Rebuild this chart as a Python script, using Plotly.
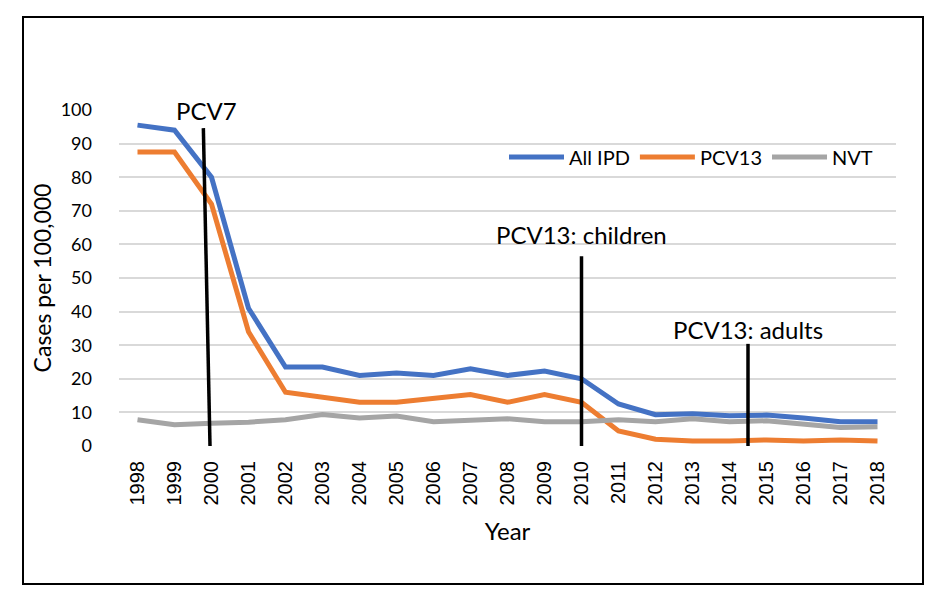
import plotly.graph_objects as go

years = list(range(1998, 2019))
all_ipd = [95.5, 94, 80, 41, 23.5, 23.5, 21, 21.7, 21, 23, 21, 22.3, 20, 12.5, 9.3, 9.6, 9, 9.2, 8.3, 7.2, 7.2]
pcv13 = [87.5, 87.5, 72, 34, 16, 14.5, 13, 13, 14, 15.3, 13, 15.3, 13, 4.5, 2, 1.5, 1.5, 1.8, 1.5, 1.8, 1.5]
nvt = [7.8, 6.3, 6.8, 7.1, 7.8, 9.4, 8.3, 8.9, 7.2, 7.5, 8.1, 7.2, 7.2, 7.8, 7.2, 8.1, 7.2, 7.5, 6.6, 5.5, 5.7]

series_names = ["All IPD", "PCV13", "NVT"]
series_colors = ["#4472C4", "#ED7D31", "#A5A5A5"]

# vaccine introduction markers
marker_labels = ["PCV7", "PCV13: children", "PCV13: adults"]
marker_x_top = [1999.78, 2010.0, 2014.5]
marker_x_bottom = [1999.96, 2010.0, 2014.5]
marker_y_top = [94.6, 56.5, 30.4]
label_x = [1999.86, 2010.0, 2014.5]
label_y = [100, 63.0, 34.6]

W, H = 935, 599
OFF = 8  # page offset
L, T = 119 - OFF, 110 - OFF
pw, ph = 777, 336
R, B = W - L - pw, H - T - ph

def px(x):
    return (x - OFF - L) / pw

def py(y):
    return (T + ph - (y - OFF)) / ph

fig = go.Figure()
for name, vals, col in zip(series_names, [all_ipd, pcv13, nvt], series_colors):
    fig.add_trace(go.Scatter(x=years, y=vals, mode="lines", name=name,
                             line=dict(color=col, width=5)))

shapes = []
for xt, xb, yt in zip(marker_x_top, marker_x_bottom, marker_y_top):
    shapes.append(dict(type="line", xref="x", yref="y", x0=xb, y0=0, x1=xt, y1=yt,
                       line=dict(color="black", width=3.5)))
# outer border
shapes.append(dict(type="rect", xref="paper", yref="paper",
                   x0=px(23), x1=px(923), y0=py(584), y1=py(17),
                   line=dict(color="black", width=2)))

annotations = []
for txt, x, y in zip(marker_labels, label_x, label_y):
    annotations.append(dict(text=txt, x=x, y=y, xref="x", yref="y", showarrow=False,
                            font=dict(family="Lato", size=24, color="black"),
                            xanchor="center", yanchor="middle"))

fig.update_layout(
    width=W, height=H,
    margin=dict(l=L, r=R, t=T, b=B, autoexpand=False),
    paper_bgcolor="white", plot_bgcolor="white",
    shapes=shapes, annotations=annotations,
    showlegend=True,
    legend=dict(orientation="h", x=px(504), y=py(157),
                xanchor="left", yanchor="middle",
                font=dict(family="Lato", size=20, color="black"),
                bgcolor="rgba(0,0,0,0)", itemwidth=55, tracegroupgap=0),
    xaxis=dict(range=[1997.5, 2018.5], tickvals=years, ticktext=[str(y) for y in years],
               tickangle=-90, showgrid=False, zeroline=False, showline=False,
               ticks="", ticklabelstandoff=10,
               tickfont=dict(family="Liberation Sans", size=20, color="black"),
               title=dict(text="Year", font=dict(family="Lato", size=24, color="black"), standoff=18)),
    yaxis=dict(range=[0, 100], tickvals=list(range(0, 101, 10)), showgrid=True,
               gridcolor="#D9D9D9", gridwidth=1.5, zeroline=False, showline=False,
               ticks="", ticklabelstandoff=26,
               tickfont=dict(family="Lato", size=18, color="black"),
               title=dict(text="Cases per 100,000", font=dict(family="Lato", size=23, color="black"), standoff=2)),
)

fig.write_html("out.html")
